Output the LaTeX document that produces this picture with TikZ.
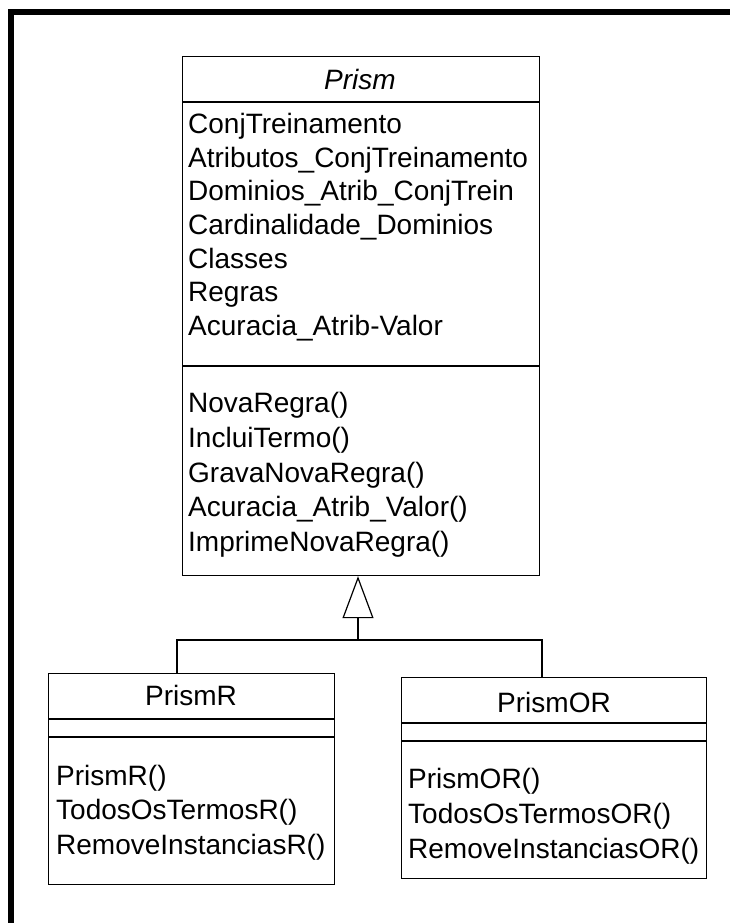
\documentclass[tikz,border=0pt]{standalone}
\usepackage{fontspec}
\setmainfont{Liberation Sans}
\usetikzlibrary{arrows.meta}
\begin{document}
\begin{tikzpicture}[x=1pt,y=-1pt,
  box/.style={draw, line width=1.2pt, inner sep=0pt, anchor=north west},
  txt/.style={anchor=base west, inner sep=0pt, font=\fontsize{28}{34}\selectfont},
  ttl/.style={anchor=base, inner sep=0pt, font=\fontsize{28}{34}\selectfont},
  sep/.style={line width=1.2pt},
  conn/.style={line width=1.2pt}]
\useasboundingbox (0,0) rectangle (730,923);
% outer frame (clipped at right and bottom)
\draw[line width=5.8pt] (11,923) -- (11,12) -- (730,12);
% Prism class
\node[box, minimum width=357pt, minimum height=519pt] (prism) at (182,56) {};
\node[ttl, font=\fontsize{28}{34}\selectfont\itshape] (prismT) at (360,90) {Prism};
\draw[sep] (prism.west |- 0,102) -- (prism.east |- 0,102);
\node[txt] (a1) at (188,133.3) {ConjTreinamento};
\node[txt] (a2) at (188,167.0) {Atributos\_ConjTreinamento};
\node[txt] (a3) at (188,200.7) {Dominios\_Atrib\_ConjTrein};
\node[txt] (a4) at (188,234.4) {Cardinalidade\_Dominios};
\node[txt] (a5) at (188,268.1) {Classes};
\node[txt] (a6) at (188,301.8) {Regras};
\node[txt] (a7) at (188,335.5) {Acuracia\_Atrib-Valor};
\draw[sep] (prism.west |- 0,366) -- (prism.east |- 0,366);
\node[txt] (o1) at (188,412.3) {NovaRegra()};
\node[txt] (o2) at (188,447.1) {IncluiTermo()};
\node[txt] (o3) at (188,482.0) {GravaNovaRegra()};
\node[txt] (o4) at (188,516.8) {Acuracia\_Atrib\_Valor()};
\node[txt] (o5) at (188,551.7) {ImprimeNovaRegra()};
% PrismR class
\node[box, minimum width=286pt, minimum height=211pt] (prismR) at (48,673) {};
\node[ttl] (rT) at (191,705) {PrismR};
\draw[sep] (prismR.west |- 0,719) -- (prismR.east |- 0,719);
\draw[sep] (prismR.west |- 0,737) -- (prismR.east |- 0,737);
\node[txt] (r1) at (56,785) {PrismR()};
\node[txt] (r2) at (56,819) {TodosOsTermosR()};
\node[txt] (r3) at (56,854) {RemoveInstanciasR()};
% PrismOR class
\node[box, minimum width=305pt, minimum height=201pt] (prismOR) at (401,677) {};
\node[ttl] (orT) at (554,712) {PrismOR};
\draw[sep] (prismOR.west |- 0,723) -- (prismOR.east |- 0,723);
\draw[sep] (prismOR.west |- 0,741) -- (prismOR.east |- 0,741);
\node[txt] (q1) at (408,788) {PrismOR()};
\node[txt] (q2) at (408,823) {TodosOsTermosOR()};
\node[txt] (q3) at (408,858) {RemoveInstanciasOR()};
% generalization
\coordinate (j) at (358,640);
\coordinate (jl) at (177,640);
\coordinate (jr) at (542,640);
\draw[conn] (jl |- prismR.north) -- (jl) -- (jr) -- (jr |- prismOR.north);
\draw[conn, -{Triangle[open, length=42pt, width=31pt, line width=1.2pt]}] (j) -- (j |- prism.south);
\end{tikzpicture}
\end{document}
